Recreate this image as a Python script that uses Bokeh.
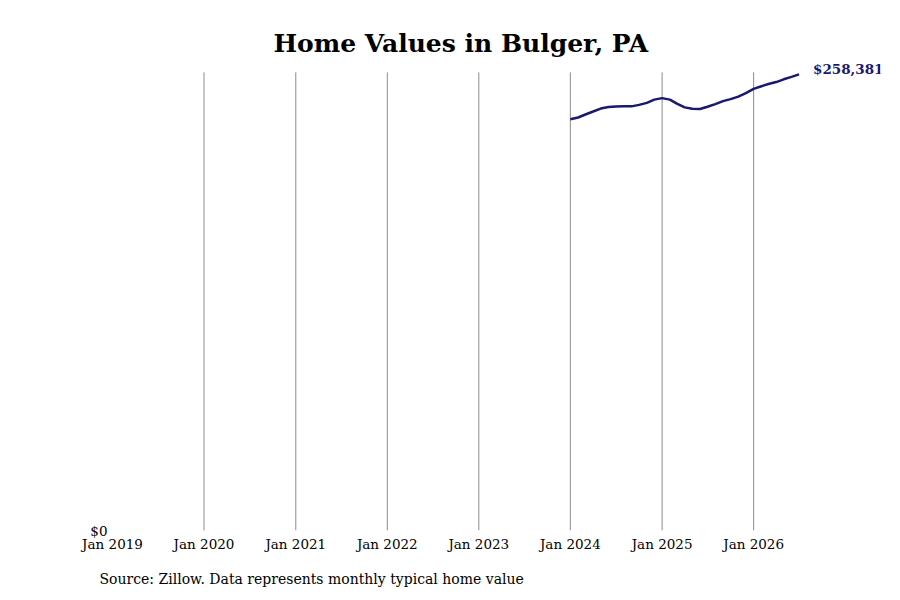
from datetime import datetime
from bokeh.plotting import figure
from bokeh.models import (Range1d, FixedTicker, DatetimeTickFormatter, NumeralTickFormatter,
                          Title, Label, ColumnDataSource)
from bokeh.embed import file_html
from bokeh.resources import INLINE

# ---- data ----
start_year, start_month = 2024, 1
home_values = [232940, 233950, 235630, 237320, 239010, 239850, 240130, 240240, 240240,
               241080, 242210, 244060, 244900, 244060, 241810, 239680, 238840, 238720,
               240020, 241530, 243220, 244340, 245740, 247710, 250130, 251640, 252880,
               254000, 255570, 256980, 258381]
tick_years = [2019, 2020, 2021, 2022, 2023, 2024, 2025, 2026]
grid_years = [2020, 2021, 2022, 2023, 2024, 2025, 2026]
title_text = "Home Values in Bulger, PA"
source_text = "Source: Zillow. Data represents monthly typical home value"

dates = []
y, m = start_year, start_month
for _ in home_values:
    dates.append(datetime(y, m, 1))
    m += 1
    if m > 12:
        m = 1
        y += 1

FONT = "DejaVu Serif"
LINE_COLOR = "#191970"
GRID_TOP = 259500

p = figure(width=884, height=600, x_axis_type="datetime",
           x_range=Range1d(datetime(2019, 1, 1), datetime(2027, 5, 22)),
           y_range=Range1d(0, 268490),
           output_backend="svg", toolbar_location=None,
           min_border_left=112, min_border_right=4, min_border_top=56, min_border_bottom=66)

p.title = Title(text=title_text, align="left", text_font=FONT, text_font_size="25px",
                text_font_style="bold", text_color="#000000", standoff=-3, offset=161)

# vertical grid lines (yearly), drawn up to the top of the value area
gx = [datetime(yr, 1, 1) for yr in grid_years]
p.segment(x0=gx, y0=[0] * len(gx), x1=gx, y1=[GRID_TOP] * len(gx),
          line_color="#8c8c8c", line_width=1)

src = ColumnDataSource(data=dict(x=dates, y=home_values))
p.line("x", "y", source=src, line_color=LINE_COLOR, line_width=2.5)

last_label = "${:,}".format(home_values[-1])
p.add_layout(Label(x=dates[-1], y=home_values[-1], text=last_label, x_offset=14, y_offset=5,
                   text_font=FONT, text_font_size="13.5px", text_font_style="bold",
                   text_color=LINE_COLOR, text_baseline="middle", text_align="left"))

# x axis
tick_ms = [datetime(yr, 1, 1).timestamp() * 1000 for yr in tick_years]
p.xaxis.ticker = FixedTicker(ticks=tick_ms)
fmt = "%b %Y"
p.xaxis.formatter = DatetimeTickFormatter(years=fmt, months=fmt, days=fmt, hours=fmt,
                                          hourmin=fmt, minutes=fmt, minsec=fmt,
                                          seconds=fmt, milliseconds=fmt, microseconds=fmt)
p.xaxis.axis_line_color = None
p.xaxis.major_tick_line_color = None
p.xaxis.minor_tick_line_color = None
p.xaxis.major_tick_out = 0
p.xaxis.minor_tick_out = 0
p.xaxis.major_label_text_font = FONT
p.xaxis.major_label_text_font_size = "13.5px"
p.xaxis.major_label_text_color = "#000000"
p.xaxis.major_label_standoff = 5

# y axis
p.yaxis.ticker = FixedTicker(ticks=[0])
p.yaxis.formatter = NumeralTickFormatter(format="$0,0")
p.yaxis.axis_line_color = None
p.yaxis.major_tick_line_color = None
p.yaxis.minor_tick_line_color = None
p.yaxis.major_tick_out = 0
p.yaxis.minor_tick_out = 0
p.yaxis.major_label_text_font = FONT
p.yaxis.major_label_text_font_size = "13.5px"
p.yaxis.major_label_text_color = "#000000"
p.yaxis.major_label_standoff = 5

p.xgrid.grid_line_color = None
p.ygrid.grid_line_color = None
p.outline_line_color = None
p.background_fill_color = "white"
p.border_fill_color = "white"

p.add_layout(Title(text=source_text, align="left", text_font=FONT, text_font_size="14px",
                   text_font_style="normal", text_color="#000000", offset=-13, standoff=28),
             "below")

open("out.html", "w").write(file_html(p, INLINE))
